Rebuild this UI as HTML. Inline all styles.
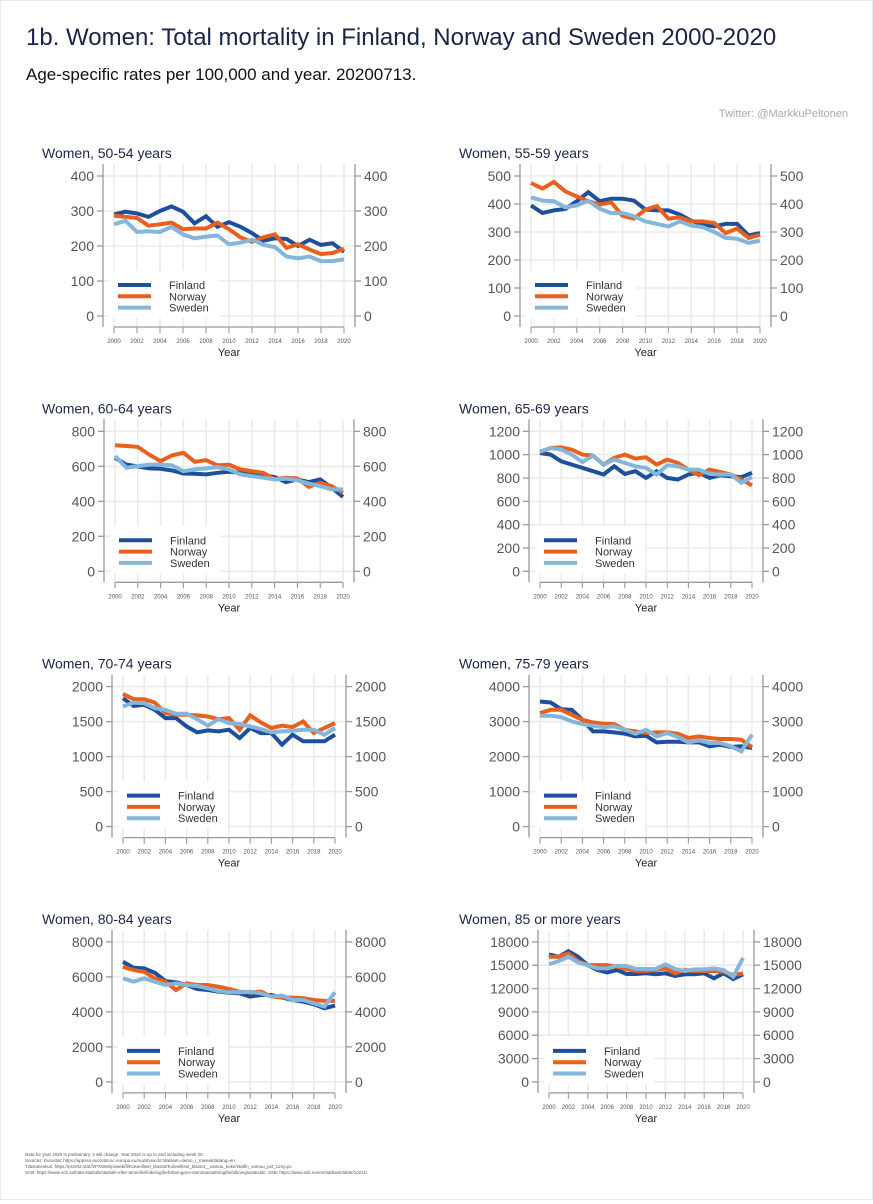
<!DOCTYPE html>
<html><head><meta charset="utf-8">
<style>
html,body{margin:0;padding:0;background:#fff;}
body{width:873px;height:1200px;overflow:hidden;font-family:"Liberation Sans",Arial,sans-serif;}
#root{position:relative;width:871px;height:1198px;border:1px solid #e2ecec;}
</style></head>
<body>
<div id="root">
<svg id="svg" width="871" height="1198" xmlns="http://www.w3.org/2000/svg">
<text x="25" y="44" font-size="24" fill="#1b2447">1b. Women: Total mortality in Finland, Norway and Sweden 2000-2020</text>
<text x="25" y="79" font-size="17" fill="#111">Age-specific rates per 100,000 and year. 20200713.</text>
<text x="847" y="116" font-size="11" fill="#aaa" text-anchor="end">Twitter: @MarkkuPeltonen</text>
<g font-size="4.5" fill="#555">
<text x="24" y="1155">Data for year 2020 is preliminary; it will change. Year 2020 is up to and including week 25.</text>
<text x="24" y="1161">Sources: Eurostat: https://appsso.eurostat.ec.europa.eu/nui/show.do?dataset=demo_r_mweek3&amp;lang=en.</text>
<text x="24" y="1167">Tilastokeskus: https://pxnet2.stat.fi/PXWeb/pxweb/fi/Kokeelliset_tilastot/Kokeelliset_tilastot__vamuu_koke/statfin_vamuu_pxt_12ng.px</text>
<text x="24" y="1173">SCB: https://www.scb.se/hitta-statistik/statistik-efter-amne/befolkning/befolkningens-sammansattning/befolkningsstatistik/. SSB: https://www.ssb.no/en/statbank/table/10211/.</text>
</g>
</svg>
</div>
<script>
const years = [2000,2001,2002,2003,2004,2005,2006,2007,2008,2009,2010,2011,2012,2013,2014,2015,2016,2017,2018,2019,2020];
const panelTitles = ["Women, 50-54 years","Women, 55-59 years","Women, 60-64 years","Women, 65-69 years","Women, 70-74 years","Women, 75-79 years","Women, 80-84 years","Women, 85 or more years"];
const yMax = [400,500,800,1200,2000,4000,8000,18000];
const yStep = [100,100,200,200,500,1000,2000,3000];
const finland = [
[290,298,293,283,300,313,298,265,285,255,268,255,237,215,222,220,200,218,203,208,183],
[395,368,377,382,410,442,410,419,419,412,380,377,377,362,340,326,320,329,329,288,296],
[648,610,599,588,586,576,559,557,554,563,569,563,557,550,538,510,525,510,525,478,425],
[1014,1000,943,915,886,858,830,900,835,858,801,858,801,787,830,845,801,824,815,807,844],
[1834,1725,1740,1668,1550,1550,1431,1346,1374,1360,1384,1265,1408,1336,1336,1170,1313,1218,1218,1218,1313],
[3573,3545,3355,3336,3052,2720,2720,2692,2654,2578,2597,2407,2426,2426,2407,2407,2294,2341,2275,2294,2246],
[6862,6521,6483,6237,5763,5687,5535,5308,5251,5156,5099,5061,4872,4967,4967,4815,4682,4587,4436,4208,4360],
[16383,16085,16809,16085,15021,14383,14085,14383,13873,13873,13958,13830,13958,13617,13830,13830,13958,13320,13958,13234,13830]];
const norway = [
[287,283,280,258,262,267,248,250,250,267,248,225,212,225,233,195,205,190,177,180,192],
[475,455,479,445,427,410,398,406,358,348,380,392,348,352,338,338,332,296,312,279,290],
[720,716,711,667,629,662,677,626,635,605,610,582,572,563,525,535,531,482,506,487,449],
[1020,1057,1062,1043,1000,991,915,972,1000,966,977,915,957,929,872,824,872,852,830,787,736],
[1896,1820,1820,1772,1621,1597,1597,1588,1573,1535,1550,1384,1588,1488,1408,1441,1422,1502,1336,1408,1479],
[3242,3336,3336,3194,3052,2976,2938,2928,2767,2720,2673,2692,2692,2654,2531,2578,2531,2502,2502,2483,2265],
[6578,6388,6294,5914,5725,5251,5630,5535,5535,5440,5308,5156,5118,5156,4872,4815,4815,4777,4682,4626,4626],
[16085,16085,16511,15532,15021,15021,15021,14809,14511,14256,14256,14383,14596,13958,14383,14256,14256,14256,14170,13745,13958]];
const sweden = [
[262,272,240,242,240,255,233,222,227,230,205,210,218,203,197,170,165,170,157,157,162],
[424,412,410,388,395,412,383,368,368,356,338,329,320,338,323,317,300,279,276,261,269],
[658,592,601,610,610,605,572,582,588,595,582,554,544,535,525,529,520,501,487,468,468],
[1028,1057,1043,1000,937,991,915,957,929,900,886,830,909,900,872,872,835,830,830,759,807],
[1716,1772,1763,1692,1668,1611,1611,1535,1441,1535,1479,1464,1431,1393,1346,1360,1370,1384,1384,1313,1408],
[3166,3166,3128,3005,2928,2881,2843,2862,2767,2654,2767,2578,2673,2559,2407,2464,2388,2388,2294,2152,2625],
[5914,5725,5914,5725,5535,5630,5535,5478,5346,5194,5118,5118,5156,5061,4872,4929,4682,4682,4493,4303,5118],
[15149,15532,16085,15362,15021,14596,14596,14936,14894,14511,14511,14511,15106,14511,14256,14468,14468,14596,14383,13532,15958]];
const seriesNames = ["Finland","Norway","Sweden"];
const seriesColors = ["#1d4f9c","#e8601c","#84b6dc"];
const panelX0 = [113,530,114,539,122,539,122,548];
const panelX1 = [343,759,342,751,334,751,334,742];

const NS="http://www.w3.org/2000/svg";
const svg=document.getElementById('svg');
function mk(tag,attrs,parent){const e=document.createElementNS(NS,tag);for(const k in attrs)e.setAttribute(k,attrs[k]);(parent||svg).appendChild(e);return e;}

for(let p=0;p<8;p++){
  const col=p%2,row=Math.floor(p/2);
  const yoff=row*255.3;
  const y0=315+yoff, yTop=175+yoff;
  const x0=panelX0[p], x1=panelX1[p];
  const ax=x0-11, rx=x1+11;
  const g=mk('g',{});
  
  
  const xS=y=>x0+(y-2000)*(x1-x0)/20;
  const yS=v=>y0-(v/yMax[p])*(y0-yTop);
  const t=mk('text',{x:col?458:41,y:157+yoff,'font-size':14,fill:'#1b2447'},g);
  t.textContent=panelTitles[p];
  
  
  // grid
  for(let yr=2000;yr<=2020;yr+=2){
    const l=mk('line',{x1:xS(yr),x2:xS(yr),y1:yTop-12,y2:y0+10,stroke:'#ebebeb','stroke-width':1.6},g);
    
    
  }
  for(let v=0;v<=yMax[p];v+=yStep[p]){
    const l=mk('line',{x1:ax,x2:rx,y1:yS(v),y2:yS(v),stroke:'#ebebeb','stroke-width':1.6},g);
    
    
  }
  // axes
  mk('line',{x1:ax,x2:ax,y1:yTop-12,y2:y0+11,stroke:'#999','stroke-width':1.3},g);
  mk('line',{x1:rx,x2:rx,y1:yTop-12,y2:y0+11,stroke:'#999','stroke-width':1.3},g);
  mk('line',{x1:x0,x2:x1,y1:y0+11,y2:y0+11,stroke:'#999','stroke-width':1.3},g);
  for(let v=0;v<=yMax[p];v+=yStep[p]){
    const yy=yS(v);
    mk('line',{x1:ax-6,x2:ax,y1:yy,y2:yy,stroke:'#999','stroke-width':1.3},g);
    mk('line',{x1:rx,x2:rx+6,y1:yy,y2:yy,stroke:'#999','stroke-width':1.3},g);
    const a=mk('text',{x:ax-9,y:yy+5,'font-size':14,fill:'#555','text-anchor':'end'},g);a.textContent=v;
    
    
    const b=mk('text',{x:rx+9,y:yy+5,'font-size':14,fill:'#555'},g);b.textContent=v;
    
    
  }
  for(let yr=2000;yr<=2020;yr+=2){
    mk('line',{x1:xS(yr),x2:xS(yr),y1:y0+11,y2:y0+17,stroke:'#999','stroke-width':1.1},g);
    const a=mk('text',{x:xS(yr),y:y0+27,'font-size':6,fill:'#555','text-anchor':'middle'},g);a.textContent=yr;
    
    
  }
  const xt=mk('text',{x:(x0+x1)/2,y:y0+40,'font-size':11,fill:'#222','text-anchor':'middle'},g);xt.textContent='Year';
  
  
  // series
  const data=[finland[p],norway[p],sweden[p]];
  for(let s=0;s<3;s++){
    const pts=years.map((yr,i)=>xS(yr).toFixed(1)+','+yS(data[s][i]).toFixed(1)).join(' ');
    const pl=mk('polyline',{points:pts,fill:'none',stroke:seriesColors[s],'stroke-width':4,'stroke-linejoin':'miter','stroke-miterlimit':3},g);
    
    
  }
  // legend
  const lg=mk('g',{},g);
  
  
  mk('rect',{x:x0-5,y:y0-45,width:110,height:47,fill:'#fff'},lg);
  for(let s=0;s<3;s++){
    const ly=y0-31+s*11.3;
    mk('line',{x1:x0+4,x2:x0+37,y1:ly,y2:ly,stroke:seriesColors[s],'stroke-width':4},lg);
    const tx=mk('text',{x:x0+55,y:ly+4,'font-size':11,fill:'#333'},lg);tx.textContent=seriesNames[s];
    
    
  }
}
</script>
</body></html>
